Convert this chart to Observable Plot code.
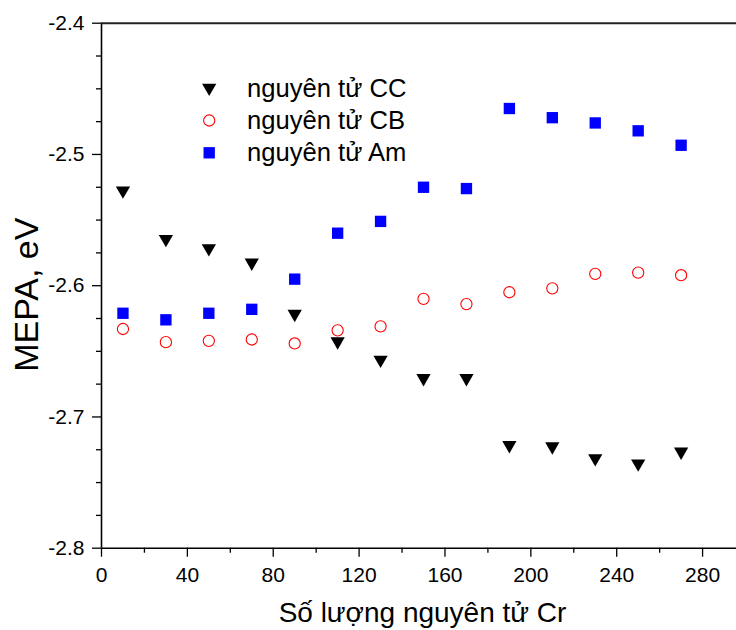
<!DOCTYPE html>
<html><head><meta charset="utf-8">
<script src="https://cdn.jsdelivr.net/npm/d3@7"></script>
<script src="https://cdn.jsdelivr.net/npm/@observablehq/plot@0.6"></script>
<style>body{margin:0;background:#fff} svg{display:block}</style>
</head><body><div id="chart"></div>
<script>
const atoms = [10, 30, 50, 70, 90, 110, 130, 150, 170, 190, 210, 230, 250, 270];
const mepaCC = [-2.529, -2.566, -2.573, -2.584, -2.623, -2.644, -2.658, -2.672, -2.672, -2.723, -2.724, -2.733, -2.737, -2.728];
const mepaCB = [-2.633, -2.643, -2.642, -2.641, -2.644, -2.634, -2.631, -2.610, -2.614, -2.605, -2.602, -2.591, -2.590, -2.592];
const mepaAm = [-2.621, -2.626, -2.621, -2.618, -2.595, -2.560, -2.551, -2.525, -2.526, -2.465, -2.472, -2.476, -2.482, -2.493];
const seriesNames = ["nguyên tử CC", "nguyên tử CB", "nguyên tử Am"];
const xMajorTicks = [0, 40, 80, 120, 160, 200, 240, 280];
const xMinorTicks = [20, 60, 100, 140, 180, 220, 260];
const yMajorTicks = [-2.8, -2.7, -2.6, -2.5, -2.4];
const yMinorTicks = [-2.775, -2.75, -2.725, -2.675, -2.65, -2.625, -2.575, -2.55, -2.525, -2.475, -2.45, -2.425];
const xTitle = "Số lượng nguyên tử Cr";
const yTitle = "MEPA, eV";

const toRows = (vals, name) => atoms.map((x, i) => ({x, y: vals[i], series: name}));
const rowsCC = toRows(mepaCC, seriesNames[0]);
const rowsCB = toRows(mepaCB, seriesNames[1]);
const rowsAm = toRows(mepaAm, seriesNames[2]);

const font = '"Liberation Sans", Arial, Helvetica, sans-serif';
const triStyle = {symbol: "triangle", rotate: 180, r: 5.3, fill: "#000000", stroke: "none"};
const cirStyle = {symbol: "circle", r: 5.6, fill: "none", stroke: "#ff0000", strokeWidth: 1.1};
const sqStyle = {symbol: "square", r: 6.4, fill: "#0000ff", stroke: "none"};
const legendStyles = [triStyle, cirStyle, sqStyle];
const legendSymDy = [64.6, 97.3, 129.6];
const legendTextDy = [66, 97.6, 129.3];

const legendMarks = [];
seriesNames.forEach((name, i) => {
  legendMarks.push(Plot.dot([name], {frameAnchor: "top-left", dx: 107.7, dy: legendSymDy[i], ...legendStyles[i]}));
  legendMarks.push(Plot.text([name], {frameAnchor: "top-left", text: d => d, dx: 145.5, dy: legendTextDy[i], textAnchor: "start", lineAnchor: "middle", fontSize: 25.6, fill: "#000"}));
});

const chart = Plot.plot({
  width: 736, height: 630,
  marginTop: 22.7, marginLeft: 101, marginRight: 0, marginBottom: 82.3,
  style: {fontFamily: font, background: "#fff", color: "#000"},
  x: {domain: [0, 295.8]},
  y: {domain: [-2.8, -2.4]},
  marks: [
    Plot.axisX({ticks: xMajorTicks, tickSize: 9, tickPadding: 10, fontSize: 21, tickFormat: d => String(d), label: null, strokeWidth: 1.3}),
    Plot.axisX({ticks: xMinorTicks, tickSize: 5, tickFormat: () => "", label: null, strokeWidth: 1.3}),
    Plot.axisY({ticks: yMajorTicks, tickSize: 9, tickPadding: 8, fontSize: 21, tickFormat: d => d.toFixed(1), label: null, strokeWidth: 1.3}),
    Plot.axisY({ticks: yMinorTicks, tickSize: 5, tickFormat: () => "", label: null, strokeWidth: 1.3}),
    Plot.ruleX([0], {stroke: "#000", strokeWidth: 1.6}),
    Plot.ruleY([-2.8], {stroke: "#000", strokeWidth: 1.6}),
    Plot.ruleY([-2.4], {stroke: "#222", strokeWidth: 2}),
    Plot.dot(rowsCC, {x: "x", y: "y", dy: -2, ...triStyle}),
    Plot.dot(rowsCB, {x: "x", y: "y", ...cirStyle}),
    Plot.dot(rowsAm, {x: "x", y: "y", ...sqStyle}),
    ...legendMarks,
    Plot.text([xTitle], {frameAnchor: "bottom", text: d => d, textAnchor: "middle", dx: 3.5, dy: 65, lineAnchor: "middle", fontSize: 28, fill: "#000"}),
    Plot.text([yTitle], {frameAnchor: "left", text: d => d, textAnchor: "middle", rotate: -90, dx: -74.5, dy: 9, lineAnchor: "middle", fontSize: 34, fill: "#000"})
  ]
});
document.getElementById("chart").appendChild(chart);
</script>
</body></html>
